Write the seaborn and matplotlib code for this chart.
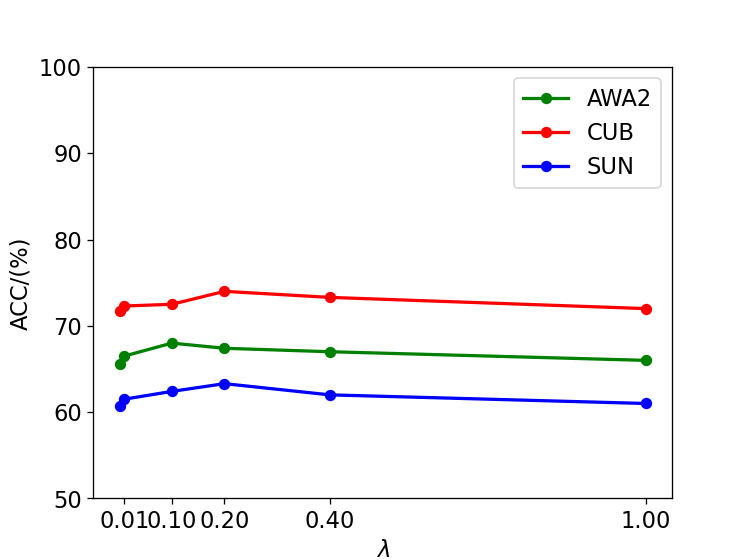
import pandas as pd
import numpy as np
import matplotlib
matplotlib.use("Agg")
import matplotlib.pyplot as plt
import seaborn as sns

# Data
lambdas = [0.001, 0.01, 0.1, 0.2, 0.4, 1.0]
awa2 = [65.6, 66.5, 68.0, 67.4, 67.0, 66.0]
cub = [71.7, 72.3, 72.5, 74.0, 73.3, 72.0]
sun = [60.7, 61.5, 62.4, 63.3, 62.0, 61.0]
tick_vals = [0.01, 0.1, 0.2, 0.4, 1.0]
tick_labels = ["0.01", "0.10", "0.20", "0.40", "1.00"]

df = pd.DataFrame({
    "lambda": lambdas * 3,
    "acc": awa2 + cub + sun,
    "dataset": ["AWA2"] * 6 + ["CUB"] * 6 + ["SUN"] * 6,
})

fig, ax = plt.subplots(figsize=(6.4, 4.8), dpi=116.7)
sns.lineplot(data=df, x="lambda", y="acc", hue="dataset",
             palette=["green", "red", "blue"], marker="o", markersize=7,
             markeredgewidth=0, linewidth=2, ax=ax, legend=True)

ax.set_ylim(50, 100)
ax.set_xticks(tick_vals)
ax.set_xticklabels(tick_labels, fontsize=14)
ax.tick_params(axis="y", labelsize=14)
ax.set_xlabel(r"$\lambda$", fontsize=14)
ax.set_ylabel("ACC/(%)", fontsize=14)
ax.legend(title=None, fontsize=14, loc="upper right")

plt.savefig("out.png")
plt.close()
